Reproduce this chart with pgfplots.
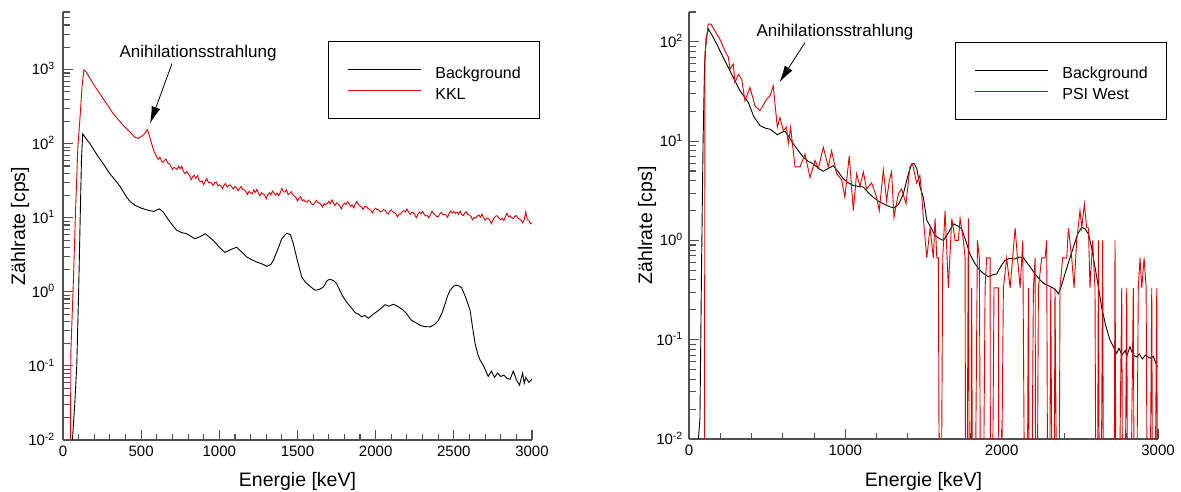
\documentclass[border=0pt]{standalone}
\usepackage{fontspec}
\setmainfont{Liberation Sans}
\usepackage{pgfplots}
\pgfplotsset{compat=1.18}
\usetikzlibrary{arrows.meta}
\definecolor{plred}{RGB}{220,0,0}
\definecolor{axgray}{RGB}{80,80,80}
\begin{document}
\begin{tikzpicture}
\path[use as bounding box] (0,0) rectangle (1181pt,492pt);
% ---------------- left axis ----------------
\begin{axis}[at={(63pt,52pt)}, anchor=south west,
  scale only axis, width=469pt, height=428pt,
  xmin=0, xmax=3000, ymode=log, ymin=0.01, ymax=6000,
  axis x line*=bottom, axis y line*=left,
  axis line style={-, axgray, line width=1.3pt},
  tick align=inside,
  major tick length=10pt, minor tick length=6.5pt,
  tick style={axgray, line width=1.1pt},
  tick label style={font=\fontsize{15}{18}\selectfont, inner sep=0pt},
  xticklabel style={anchor=north, yshift=-6pt},
  yticklabel style={anchor=base east, xshift=-8pt, yshift=-5.3pt},
  /pgf/number format/assume math mode=true,
  /pgf/number format/set thousands separator={},
  scaled x ticks=false,
  label style={font=\fontsize{19.5}{23}\selectfont},
  xlabel={Energie [keV]},
  ylabel={Zählrate [cps]},
  xlabel style={at={([yshift=-47pt]axis description cs:0.5,0)}, anchor=base, inner sep=0pt},
  ylabel style={at={([xshift=-38pt]axis description cs:0,0.5)}, anchor=base, inner sep=0pt},
  legend image code/.code={\draw[#1] (0pt,0pt) -- (73pt,0pt);},
  legend style={at={(axis description cs:0.565,0.932)}, anchor=north west, draw=black, line width=1pt, fill=white, inner xsep=19pt, inner ysep=19.5pt, font=\fontsize{16}{19}\selectfont, row sep=4pt, column sep=14pt, nodes={inner sep=0pt, text height=17pt, text depth=0pt}},
  legend cell align=left,
  clip mode=individual,
  xtick={0,500,1000,1500,2000,2500,3000}, minor x tick num=4,
  ytick={0.01,0.1,1,10,100,1000},
  yticklabels={10\textsuperscript{-2},10\textsuperscript{-1},10\textsuperscript{0},10\textsuperscript{1},10\textsuperscript{2},10\textsuperscript{3}},
  minor ytick={0.02,0.03,0.04,0.05,0.06,0.07,0.08,0.09,0.2,0.3,0.4,0.5,0.6,0.7,0.8,0.9,2,3,4,5,6,7,8,9,20,30,40,50,60,70,80,90,200,300,400,500,600,700,800,900,2000,3000,4000,5000,6000}]
\addplot[black, line width=0.9pt] coordinates {
(60,0.01)(75,0.03)(88,0.1)(100,1)(110,10)(118,60)(126,136)(150,115)(173,100)(215,72)(258,53.6)(301,39)(335,32)(365,26.5)(407,19)(430,16.5)(461,14.7)(500,13.5)(546,12.6)(580,12.2)(616,13.2)(640,12)(663,10.2)(695,8.2)(727,6.8)(760,6.3)(791,6.1)(820,5.6)(844,5.2)(880,5.6)(910,6.1)(940,5.4)(972,4.7)(1000,4.0)(1036,3.4)(1070,3.7)(1111,4.0)(1140,3.5)(1175,2.96)(1210,2.7)(1239,2.53)(1270,2.4)(1303,2.21)(1330,2.35)(1346,2.67)(1375,3.8)(1399,5.2)(1431,6.2)(1455,5.9)(1473,4.5)(1500,2.6)(1527,1.59)(1550,1.35)(1580,1.19)(1612,1.05)(1640,1.08)(1665,1.16)(1690,1.42)(1708,1.48)(1730,1.42)(1751,1.29)(1770,1.05)(1793,0.85)(1820,0.70)(1847,0.60)(1870,0.52)(1890,0.50)(1911,0.46)(1930,0.48)(1953,0.44)(1980,0.49)(2007,0.54)(2035,0.60)(2060,0.67)(2085,0.64)(2113,0.68)(2140,0.64)(2177,0.565)(2200,0.50)(2230,0.41)(2260,0.38)(2284,0.355)(2310,0.34)(2348,0.337)(2375,0.36)(2401,0.41)(2425,0.52)(2444,0.69)(2460,0.88)(2476,1.05)(2500,1.2)(2518,1.23)(2535,1.2)(2550,1.13)(2575,0.85)(2604,0.565)(2620,0.33)(2636,0.20)(2655,0.14)(2668,0.12)(2690,0.10)(2700,0.09)(2720,0.072)(2740,0.085)(2760,0.07)(2780,0.08)(2800,0.072)(2820,0.075)(2840,0.068)(2860,0.066)(2880,0.085)(2900,0.065)(2920,0.055)(2940,0.08)(2950,0.058)(2960,0.07)(2980,0.06)(3000,0.066)
};
\addlegendentry{Background}
\addplot[plred, line width=0.9pt] coordinates {
(47,0.001)(50,0.15)(66,1.3)(80,12)(95,90)(109,227)(122,600)(134,1000)(150,920)(170,780)(194,641)(220,530)(258,403)(290,320)(322,253)(355,210)(386,176)(420,150)(461,122)(480,118)(503,126)(520,135)(539,155)(552,130)(567,100)(583,78)
(600,66)(610,61)(620,65.7)(630,58)(640,56)(650,60)(660,61.6)(670,55)(680,54)(690,50)(700,45)(710,48)(720,46.6)(730,45)(740,49.7)(750,46)(760,49.3)(770,42)(780,39.5)(790,42)(800,40)(810,37)(820,32.7)(830,36)(840,37.4)(850,34)(860,37.1)(870,32)(880,30.7)(890,31.5)(900,28.1)(910,31)(920,33.9)(930,30)(940,30.1)(950,29.5)(960,27.4)(970,29.8)(980,30.5)(990,27)(1000,27.9)(1010,27)(1020,24.9)(1030,27.5)(1040,28.9)(1050,26)(1060,27.3)(1070,27.8)(1080,26)(1090,24.5)(1100,26.5)(1110,25.5)(1120,23.3)(1130,25)(1140,26.4)(1150,24)(1160,23.8)(1170,22.5)(1180,20.7)(1190,22.8)(1200,21.8)(1210,21)(1220,23.8)(1230,22)(1240,24.1)(1250,21.5)(1260,19.7)(1270,21.8)(1280,21)(1290,20.2)(1300,18.1)(1310,20.5)(1320,21.8)(1330,20.5)(1340,22.9)(1350,21.5)(1360,20.2)(1370,21.5)(1380,19.8)(1390,22)(1400,24.9)(1410,22.5)(1420,22.2)(1430,24)(1440,20.5)(1450,21.2)(1460,22.6)(1470,20.5)(1480,19.6)(1490,18.9)(1500,16.9)(1510,18.5)(1520,19.3)(1530,17)(1540,17.5)(1550,16.5)(1560,16.3)(1570,17.3)(1580,16.7)(1590,15.4)(1600,14.9)(1610,16)(1620,17.2)(1630,16.2)(1640,15.8)(1650,15.2)(1660,14.0)(1670,15.5)(1680,15.0)(1690,15.6)(1700,16.7)(1710,15.5)(1720,17.4)(1730,15.8)(1740,14.6)(1750,15.9)(1760,15.4)(1770,14.5)(1780,13.2)(1790,14.8)(1800,15.8)(1810,15)(1820,16.4)(1830,15.4)(1840,14.3)(1850,14.9)(1860,13.6)(1870,15.4)(1880,16.6)(1890,15.1)(1900,14.4)(1910,14.0)(1920,13.0)(1930,14.2)(1940,14.3)(1950,13.4)(1960,13.0)(1970,12.6)(1980,11.6)(1990,12.9)(2000,13.5)(2010,12.9)(2020,12.8)(2030,12)(2040,12.2)(2050,12.9)(2060,12.7)(2070,11.7)(2080,11.2)(2090,12.3)(2100,12.8)(2110,12.0)(2120,11.7)(2130,11.3)(2140,10.3)(2150,11.3)(2160,11.2)(2170,12.1)(2180,12.5)(2190,12.0)(2200,13.1)(2210,12.0)(2220,11.1)(2230,11.8)(2240,11.8)(2250,11.1)(2260,10.0)(2270,11.2)(2280,11.9)(2290,11.3)(2300,12.2)(2310,11.1)(2320,10.6)(2330,10.7)(2340,10.0)(2350,11.0)(2360,12.3)(2370,11.4)(2380,11.1)(2390,10.4)(2400,10.3)(2410,11.3)(2420,11.8)(2430,11.0)(2440,11.1)(2450,10.9)(2460,10.1)(2470,11.5)(2480,12.4)(2490,11.6)(2500,12.2)(2510,11.5)(2520,11.9)(2530,11.2)(2540,12.3)(2550,11.1)(2560,10.7)(2570,11.6)(2580,12.1)(2590,11.0)(2600,10.9)(2610,10.4)(2620,9.4)(2630,10.1)(2640,9.9)(2650,10.6)(2660,10.9)(2670,10.2)(2680,11.2)(2690,10.1)(2700,9.3)(2710,9.9)(2720,9.8)(2730,9.3)(2740,8.3)(2750,9.3)(2760,10.1)(2770,10.6)(2780,10.6)(2790,9.8)(2800,9.4)(2810,9.8)(2820,9.2)(2830,10.4)(2840,11.5)(2850,10.3)(2860,10.6)(2870,10.0)(2880,9.8)(2890,10.4)(2900,10.7)(2910,9.9)(2920,9.6)(2930,9.3)(2940,8.5)(2950,9.3)(2960,12.0)(2970,9.4)(2980,9.3)(2990,8.3)(3000,8.6)
};
\addlegendentry{KKL}
\node[font=\fontsize{17}{20}\selectfont, inner sep=0pt] at (axis cs:864,1694) {Anihilationsstrahlung};
\draw[-{Latex[length=17pt,width=9pt]}, line width=0.8pt] (axis cs:697,1205) -- (axis cs:557,187);
\end{axis}
% ---------------- right axis ----------------
\begin{axis}[at={(689pt,53pt)}, anchor=south west,
  scale only axis, width=469pt, height=427pt,
  xmin=0, xmax=3000, ymode=log, ymin=0.01, ymax=200,
  axis x line*=bottom, axis y line*=left,
  axis line style={-, axgray, line width=1.3pt},
  tick align=inside,
  major tick length=10pt, minor tick length=6.5pt,
  tick style={axgray, line width=1.1pt},
  tick label style={font=\fontsize{15}{18}\selectfont, inner sep=0pt},
  xticklabel style={anchor=north, yshift=-6pt},
  yticklabel style={anchor=base east, xshift=-6pt, yshift=-5.3pt},
  /pgf/number format/assume math mode=true,
  /pgf/number format/set thousands separator={},
  scaled x ticks=false,
  label style={font=\fontsize{19.5}{23}\selectfont},
  xlabel={Energie [keV]},
  ylabel={Zählrate [cps]},
  xlabel style={at={([yshift=-47pt]axis description cs:0.5,0)}, anchor=base, inner sep=0pt},
  ylabel style={at={([xshift=-37pt]axis description cs:0,0.5)}, anchor=base, inner sep=0pt},
  legend image code/.code={\draw[#1] (0pt,0pt) -- (73pt,0pt);},
  legend style={at={(axis description cs:0.567,0.930)}, anchor=north west, draw=black, line width=1pt, fill=white, inner xsep=19pt, inner ysep=19.5pt, font=\fontsize{16}{19}\selectfont, row sep=4pt, column sep=14pt, nodes={inner sep=0pt, text height=17pt, text depth=0pt}},
  legend cell align=left,
  clip mode=individual,
  xtick={0,1000,2000,3000}, minor x tick num=4,
  ytick={0.01,0.1,1,10,100},
  yticklabels={10\textsuperscript{-2},10\textsuperscript{-1},10\textsuperscript{0},10\textsuperscript{1},10\textsuperscript{2}},
  minor ytick={0.02,0.03,0.04,0.05,0.06,0.07,0.08,0.09,0.2,0.3,0.4,0.5,0.6,0.7,0.8,0.9,2,3,4,5,6,7,8,9,20,30,40,50,60,70,80,90,200}]
\addplot[black, line width=0.9pt] coordinates {
(60,0.01)(70,0.016)(80,0.5)(90,10)(100,60)(110,110)(124,134)(150,115)(177,95)(220,69.5)(273,47.3)(326,32.2)(380,24.5)(412,18)(454,14.3)(490,13.5)(518,13.2)(545,12.3)(565,11.6)(590,12.2)(614,12.6)(640,11)(667,9.4)(700,8)(731,6.9)(760,6.3)(795,5.9)(830,5.3)(859,4.98)(890,5.3)(923,5.65)(955,4.9)(987,4.17)(1020,3.8)(1051,3.57)(1085,3.5)(1115,3.45)(1150,3.0)(1179,2.72)(1210,2.5)(1243,2.34)(1280,2.2)(1311,2.12)(1340,2.3)(1371,2.94)(1400,4.5)(1424,5.9)(1440,5.95)(1457,5.3)(1478,3.44)(1499,2.72)(1521,1.6)(1542,1.4)(1574,1.12)(1600,1.05)(1627,1.0)(1660,1.2)(1691,1.47)(1720,1.40)(1744,1.31)(1770,1.0)(1797,0.73)(1825,0.6)(1851,0.52)(1880,0.47)(1915,0.43)(1940,0.45)(1968,0.46)(1995,0.55)(2021,0.63)(2050,0.66)(2085,0.65)(2110,0.68)(2139,0.67)(2175,0.56)(2213,0.46)(2240,0.41)(2267,0.37)(2300,0.35)(2331,0.33)(2350,0.31)(2363,0.29)(2385,0.36)(2405,0.46)(2430,0.62)(2459,0.86)(2485,1.15)(2512,1.36)(2535,1.3)(2555,1.16)(2575,0.85)(2597,0.54)(2620,0.33)(2640,0.21)(2665,0.14)(2693,0.099)(2715,0.085)(2736,0.073)(2750,0.082)(2770,0.07)(2790,0.078)(2800,0.068)(2821,0.085)(2840,0.07)(2864,0.067)(2880,0.072)(2900,0.064)(2920,0.07)(2949,0.065)(2970,0.068)(2996,0.053)
};
\addlegendentry{Background}
\addplot[plred, line width=0.9pt] coordinates {
(97,0.00001)(102,75)(122,151)(141,151)(166,129)(198,106)(230,81)(252,70)(262,53)(283,60)(294,39)(316,47)(337,42)(358,25.5)(390,34.8)(422,22.7)(454,20.3)(497,26.5)(518,28.6)(539,36)(565,13.8)(582,17.3)(603,12.8)(624,13.8)(635,9.4)(650,13.8)(678,5.5)(710,5.5)(742,7.4)(774,4.3)(806,6.4)(827,5.3)(859,8.7)(891,5.5)(912,8.0)(944,4.7)(976,4.1)(997,2.72)(1025,7.1)(1051,2.0)(1072,4.7)(1094,3.5)(1115,4.9)(1136,3.3)(1168,3.8)(1200,2.72)(1217,2.0)(1243,5.1)(1264,2.5)(1281,4.0)(1296,4.9)(1311,1.71)(1339,2.95)(1360,3.3)(1388,2.34)(1413,5.5)(1430,5.9)(1456,3.8)(1477,4.5)(1490,2.7)
(1499,1.667)(1521,0.667)(1542,1.333)(1563,0.667)(1574,1.667)(1585,0.667)(1595,0.667)(1606,0.00001)(1623,0.667)(1638,2)(1659,0.333)(1681,1.667)(1702,1)(1723,1)(1734,1.667)(1755,1)(1766,0.667)(1772,0.00001)(1787,1.667)(1798,0.00001)(1808,0.333)(1819,0.00001)(1845,1)(1857,0.667)(1872,0.00001)(1894,0.333)(1904,0.667)(1926,0.667)(1930,0.00001)(1951,0.333)(1979,0.333)(1985,0.00001)(2011,0.333)(2032,0.667)(2054,0.333)(2086,1.333)(2101,0.667)(2118,0.333)(2135,1)(2156,0.00001)(2171,0.333)(2182,0.00001)(2203,0.333)(2214,0.667)(2220,0.00001)(2235,0.333)(2256,0.667)(2278,0.667)(2288,1)(2299,0.00001)(2314,0.333)(2331,0.00001)(2341,0.333)(2363,0.00001)(2373,0.333)(2390,0.667)(2416,0.667)(2427,1.333)(2448,0.667)(2463,0.333)(2480,1)(2501,2)(2512,1.333)(2529,2.333)(2544,1.333)(2555,1.333)(2565,0.333)(2582,1)(2597,0.333)(2608,0.00001)(2619,1)(2629,0.00001)(2646,1)(2655,0.00001)(2715,0.00001)(2725,1)(2736,0.00001)(2768,0.333)(2779,0.00001)(2800,0.333)(2810,0.00001)(2842,0.333)(2853,0.00001)(2874,0.333)(2885,0.667)(2896,0.333)(2911,0.667)(2924,0.333)(2938,0.00001)(2960,0.333)(2970,0.00001)(2992,0.333)(3000,0.00001)
};
\addlegendentry{PSI West}
\node[font=\fontsize{17}{20}\selectfont, inner sep=0pt] at (axis cs:934,126) {Anihilationsstrahlung};
\draw[-{Latex[length=17pt,width=9pt]}, line width=0.8pt] (axis cs:742,98.5) -- (axis cs:578,39);
\end{axis}
\end{tikzpicture}
\end{document}
